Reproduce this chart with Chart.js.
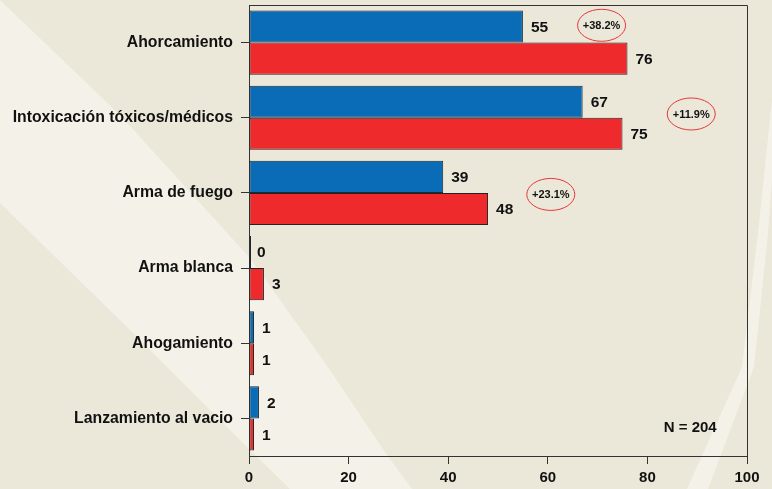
<!DOCTYPE html>
<html>
<head>
<meta charset="utf-8">
<script src="https://cdn.jsdelivr.net/npm/chart.js@4/dist/chart.umd.min.js"></script>
<style>
html,body{margin:0;padding:0;background:#EBE8D9;}
#wrap{width:772px;height:489px;}
</style>
</head>
<body>
<div id="wrap"><canvas id="c" width="772" height="489"></canvas></div>
<script>
const categories = ['Ahorcamiento', 'Intoxicación tóxicos/médicos', 'Arma de fuego', 'Arma blanca', 'Ahogamiento', 'Lanzamiento al vacio'];
const seriesBlue = [55, 67, 39, 0, 1, 2];
const seriesRed = [76, 75, 48, 3, 1, 1];
const xTicks = [0, 20, 40, 60, 80, 100];
const annotLabels = ['+38.2%', '+11.9%', '+23.1%'];
const annotValues = [70.8, 88.8, 60.6];
const annotCats = [-0.23, 0.95, 2.02];
const noteText = 'N = 204';
const noteValue = 88.6;
const noteCat = 5.13;

const FONT = '"Liberation Sans", Arial, sans-serif';
const BG = '#EBE8D9';
const LIGHT = '#F4F2E8';

const bgPlugin = {
  id: 'bg',
  beforeDraw(chart) {
    const ctx = chart.ctx;
    ctx.save();
    ctx.fillStyle = BG;
    ctx.fillRect(0, 0, chart.width, chart.height);
    ctx.fillStyle = LIGHT;
    ctx.beginPath();
    ctx.moveTo(0, 0);
    ctx.lineTo(120, 115);
    ctx.lineTo(250, 258);
    ctx.lineTo(330, 370);
    ctx.lineTo(387, 455);
    ctx.lineTo(412, 489);
    ctx.lineTo(290, 489);
    ctx.lineTo(250, 450);
    ctx.lineTo(130, 330);
    ctx.lineTo(0, 203);
    ctx.closePath();
    ctx.fill();
    ctx.beginPath();
    ctx.moveTo(687, 489);
    ctx.lineTo(708, 489);
    ctx.lineTo(754, 367);
    ctx.lineTo(768, 233);
    ctx.lineTo(772, 180);
    ctx.lineTo(772, 100);
    ctx.lineTo(758, 233);
    ctx.lineTo(742, 367);
    ctx.closePath();
    ctx.fill();
    ctx.restore();
  }
};

const decorPlugin = {
  id: 'decor',
  afterDatasetsDraw(chart) {
    const ctx = chart.ctx;
    const xs = chart.scales.x, ys = chart.scales.y;
    const ca = chart.chartArea;
    ctx.save();
    ctx.strokeStyle = '#333';
    ctx.lineWidth = 1;
    ctx.beginPath();
    ctx.moveTo(ca.left, Math.round(ca.top) + 0.5);
    ctx.lineTo(Math.round(ca.right) + 0.5, Math.round(ca.top) + 0.5);
    ctx.lineTo(Math.round(ca.right) + 0.5, ca.bottom);
    ctx.stroke();
    ctx.fillStyle = '#111';
    ctx.font = 'bold 15.5px ' + FONT;
    ctx.textAlign = 'left';
    ctx.textBaseline = 'middle';
    chart.data.datasets.forEach((ds, di) => {
      const meta = chart.getDatasetMeta(di);
      meta.data.forEach((el, i) => {
        const v = ds.data[i];
        ctx.fillText(String(v), xs.getPixelForValue(v) + 8, el.y + 1);
      });
    });
    ctx.font = 'bold 11px ' + FONT;
    ctx.textAlign = 'center';
    annotLabels.forEach((t, i) => {
      const cx = xs.getPixelForValue(annotValues[i]);
      const cy = ys.getPixelForValue(annotCats[i]);
      ctx.strokeStyle = '#E8363C';
      ctx.lineWidth = 1;
      ctx.beginPath();
      ctx.ellipse(cx, cy, 24, 16, 0, 0, Math.PI * 2);
      ctx.stroke();
      ctx.fillStyle = '#111';
      ctx.fillText(t, cx, cy + 1);
    });
    ctx.font = 'bold 15px ' + FONT;
    ctx.fillText(noteText, xs.getPixelForValue(noteValue), ys.getPixelForValue(noteCat));
    ctx.restore();
  }
};

new Chart(document.getElementById('c'), {
  type: 'bar',
  data: {
    labels: categories,
    datasets: [
      { label: 'Serie 1', data: seriesBlue, backgroundColor: '#0A6BB6', borderColor: '#1e2a30', borderWidth: 1, borderSkipped: false, barPercentage: 1, categoryPercentage: 0.853, minBarLength: 2 },
      { label: 'Serie 2', data: seriesRed, backgroundColor: '#EE2A2D', borderColor: '#222', borderWidth: 1, borderSkipped: false, barPercentage: 1, categoryPercentage: 0.853 }
    ]
  },
  options: {
    indexAxis: 'y',
    responsive: false,
    animation: false,
    events: [],
    layout: { padding: { top: 5, right: 25, left: 0, bottom: 0 } },
    plugins: { legend: { display: false }, tooltip: { enabled: false } },
    scales: {
      x: {
        min: 0, max: 100,
        afterBuildTicks(s) { s.ticks = xTicks.map(v => ({ value: v })); },
        afterFit(s) { s.height = 33; s.paddingLeft = 0; s.paddingRight = 0; },
        ticks: { color: '#111', font: { family: FONT, size: 15, weight: 'bold' }, padding: 5, maxRotation: 0 },
        grid: { drawOnChartArea: false, drawTicks: true, tickLength: 8, color: '#333' },
        border: { display: true, color: '#333', width: 1 }
      },
      y: {
        afterFit(s) { s.width = 249; s.paddingTop = 0; s.paddingBottom = 0; },
        ticks: { color: '#111', font: { family: FONT, size: 15.8, weight: 'bold' }, padding: 8 },
        grid: { offset: false, drawOnChartArea: false, drawTicks: true, tickLength: 8, color: '#333' },
        border: { display: true, color: '#333', width: 1 }
      }
    }
  },
  plugins: [bgPlugin, decorPlugin]
});
</script>
</body>
</html>
